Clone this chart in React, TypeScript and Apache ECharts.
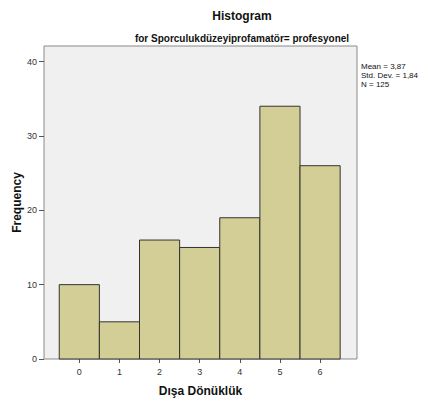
import React, { useEffect, useRef } from "react";
import * as echarts from "echarts";

const binCenters = [0, 1, 2, 3, 4, 5, 6];
const frequencies = [10, 5, 16, 15, 19, 34, 26];
const yTicks = [0, 10, 20, 30, 40];
const xTicks = [0, 1, 2, 3, 4, 5, 6];
const statsLines = ["Mean = 3,87", "Std. Dev. = 1,84", "N = 125"];

const FONT = "'Liberation Sans', Arial, sans-serif";

export default function App() {
  const ref = useRef<HTMLDivElement>(null);
  useEffect(() => {
    if (!ref.current) return;
    const chart = echarts.init(ref.current, null, { renderer: "svg" });
    const data = binCenters.map((c, i) => [c, frequencies[i]]);
    chart.setOption({
      animation: false,
      backgroundColor: "#ffffff",
      title: [
        {
          text: "Histogram",
          left: 237,
          top: 5,
          textAlign: "center",
          textStyle: { fontFamily: FONT, fontSize: 12, fontWeight: "bold", color: "#111" },
        },
        {
          text: "for Sporculukdüzeyiprofamatör= profesyonel",
          left: 237,
          top: 28,
          textAlign: "center",
          textStyle: { fontFamily: FONT, fontSize: 10, fontWeight: "bold", color: "#111" },
        },
      ],
      grid: {
        left: 44,
        top: 46,
        width: 313,
        height: 313,
        outerBoundsMode: "none",
        containLabel: false,
        show: true,
        backgroundColor: "#f0f0f0",
        borderColor: "#8a8a8a",
        borderWidth: 1,
      },
      xAxis: {
        type: "value",
        min: -0.88,
        max: 6.92,
        name: "Dışa Dönüklük",
        nameLocation: "middle",
        nameGap: 26,
        nameTextStyle: { fontFamily: FONT, fontSize: 12, fontWeight: "bold", color: "#111" },
        splitLine: { show: false },
        axisLine: { show: false, onZero: false },
        axisTick: { show: true, length: 4, lineStyle: { color: "#555" }, customValues: xTicks },
        axisLabel: { fontFamily: FONT, fontSize: 9, color: "#333", margin: 8, customValues: xTicks },
      },
      yAxis: {
        type: "value",
        min: 0,
        max: 42.1,
        name: "Frequency",
        nameLocation: "middle",
        nameGap: 21,
        nameMoveOverlap: false,
        nameTextStyle: { fontFamily: FONT, fontSize: 12, fontWeight: "bold", color: "#111" },
        splitLine: { show: false },
        axisLine: { show: false, onZero: false },
        axisTick: { show: true, length: 5, lineStyle: { color: "#555" }, customValues: yTicks },
        axisLabel: { fontFamily: FONT, fontSize: 9, color: "#333", margin: 7, customValues: yTicks },
      },
      graphic: [
        {
          type: "text",
          left: 361,
          top: 62,
          style: {
            text: statsLines.join("\n"),
            font: `8px ${FONT}`,
            fill: "#111",
            lineHeight: 9,
          },
        },
      ],
      series: [
        {
          type: "custom",
          data,
          renderItem: (params: any, api: any) => {
            const x = api.value(0);
            const v = api.value(1);
            const p0 = api.coord([x - 0.5, v]);
            const p1 = api.coord([x + 0.5, 0]);
            return {
              type: "rect",
              shape: { x: p0[0], y: p0[1], width: p1[0] - p0[0], height: p1[1] - p0[1] },
              style: { fill: "#d3ce96", stroke: "#333", lineWidth: 1 },
            };
          },
        },
      ],
    });
    return () => chart.dispose();
  }, []);
  return (
    <div
      ref={ref}
      style={{ position: "fixed", left: 0, top: 0, width: 421, height: 403 }}
    />
  );
}
